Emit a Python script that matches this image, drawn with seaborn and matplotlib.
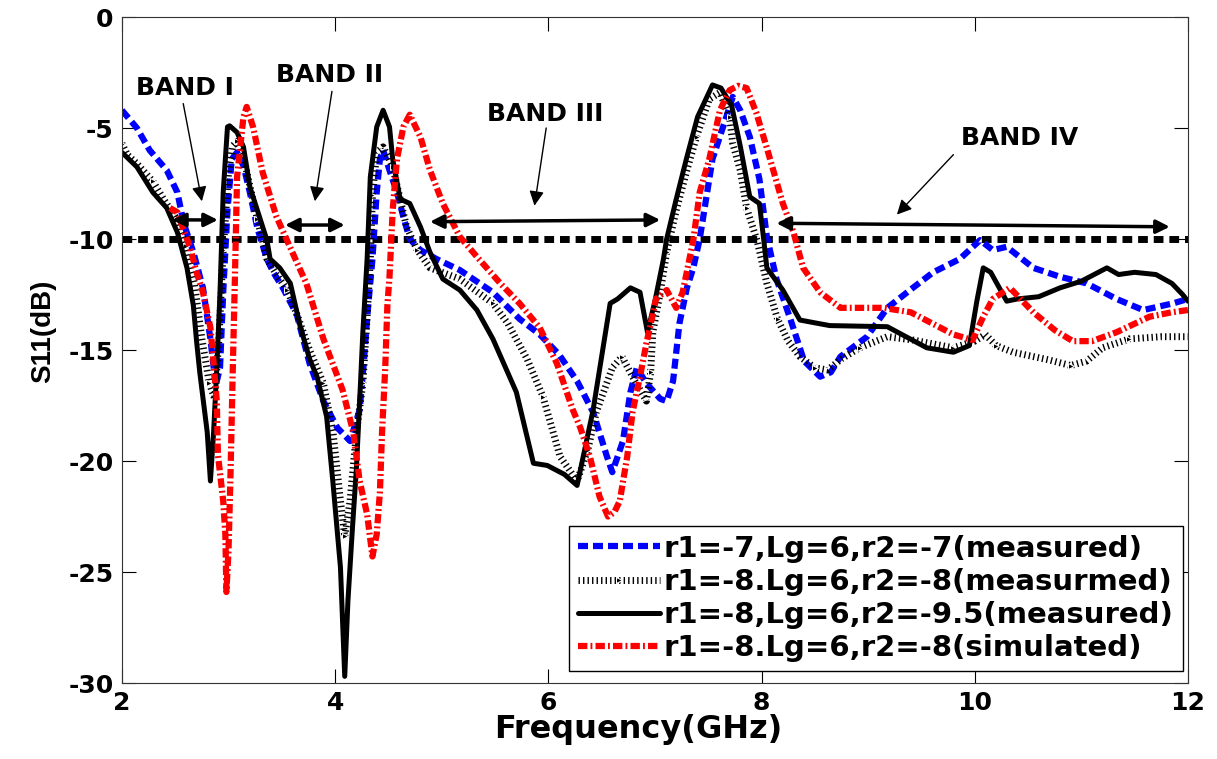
import matplotlib
matplotlib.use("Agg")
import matplotlib.pyplot as plt
import seaborn as sns

# S11 curves (frequency in GHz, S11 in dB)
blue_f = [2.00, 2.14, 2.26, 2.42, 2.52, 2.58, 2.67, 2.76, 2.83, 2.88, 2.92, 2.95, 2.99, 3.03, 3.08,
          3.14, 3.20, 3.27, 3.36, 3.42, 3.51, 3.64, 3.76, 3.89, 4.02, 4.14, 4.23, 4.27, 4.31, 4.35,
          4.39, 4.42, 4.45, 4.51, 4.58, 4.64, 4.70, 4.80, 4.95, 5.17, 5.48, 5.73, 5.92, 6.10, 6.27,
          6.42, 6.55, 6.60, 6.70, 6.77, 6.83, 6.92, 7.05, 7.11, 7.17, 7.23, 7.30, 7.36, 7.42, 7.54,
          7.67, 7.73, 7.80, 7.89, 7.98, 8.05, 8.14, 8.27, 8.40, 8.55, 8.65, 8.74, 8.99, 9.18, 9.42,
          9.61, 9.86, 10.05, 10.17, 10.30, 10.55, 10.80, 11.05, 11.33, 11.58, 11.86, 12.00]
blue_s11 = [-4.2, -5.0, -6.0, -6.9, -7.9, -9.3, -10.6, -12.2, -14.5, -16.6, -15.8, -12.4, -8.7, -6.4, -6.1,
            -6.7, -7.9, -9.5, -10.9, -11.5, -12.2, -13.4, -15.6, -17.3, -18.5, -19.1, -17.7, -15.5, -13.0, -10.9,
            -7.9, -6.4, -6.0, -6.9, -7.9, -9.0, -10.0, -10.5, -10.9, -11.4, -12.4, -13.6, -14.3, -15.2, -16.4,
            -17.8, -19.8, -20.5, -19.1, -16.9, -15.8, -16.5, -17.2, -17.3, -16.4, -13.8, -12.2, -11.3, -10.0, -6.4,
            -4.5, -3.6, -4.2, -5.4, -7.3, -9.9, -11.8, -13.6, -15.5, -16.2, -16.0, -15.3, -14.4, -13.1, -12.2,
            -11.5, -10.9, -10.05, -10.5, -10.35, -11.3, -11.7, -12.0, -12.7, -13.2, -12.9, -12.7]

dot_f = [2.00, 2.05, 2.14, 2.29, 2.39, 2.50, 2.60, 2.68, 2.75, 2.82, 2.87, 2.91, 2.95, 3.00, 3.04,
         3.08, 3.14, 3.20, 3.27, 3.36, 3.45, 3.55, 3.65, 3.76, 3.89, 3.98, 4.05, 4.09, 4.14, 4.20,
         4.26, 4.30, 4.33, 4.35, 4.39, 4.45, 4.54, 4.61, 4.67, 4.77, 4.89, 5.17, 5.48, 5.62, 5.80,
         5.95, 6.11, 6.27, 6.37, 6.45, 6.60, 6.69, 6.79, 6.92, 6.96, 6.98, 7.05, 7.11, 7.20, 7.30,
         7.39, 7.51, 7.61, 7.70, 7.73, 7.80, 7.86, 7.96, 8.05, 8.15, 8.25, 8.36, 8.50, 8.62, 8.75,
         8.92, 9.18, 9.42, 9.80, 10.00, 10.10, 10.20, 10.36, 10.70, 10.90, 11.05, 11.20, 11.45, 11.75, 12.00]
dot_s11 = [-5.7, -6.2, -6.6, -7.4, -8.2, -9.0, -10.3, -12.0, -14.5, -16.5, -17.2, -14.5, -10.5, -7.0, -5.8,
           -5.6, -6.3, -7.6, -9.1, -10.9, -11.6, -12.3, -13.5, -15.0, -16.5, -18.7, -21.8, -23.4, -21.8, -18.7,
           -16.5, -13.5, -10.9, -8.0, -6.1, -5.85, -6.75, -8.2, -9.45, -10.5, -11.3, -11.8, -12.9, -13.8, -15.4,
           -17.1, -19.8, -20.9, -19.5, -17.8, -15.8, -15.3, -16.2, -17.3, -16.0, -14.2, -12.4, -10.6, -8.7, -6.9,
           -5.4, -3.7, -3.4, -4.5, -5.7, -6.9, -8.6, -10.1, -12.0, -13.6, -14.6, -15.3, -15.8, -15.9, -15.4,
           -14.9, -14.4, -14.55, -14.9, -14.6, -14.3, -14.8, -15.1, -15.45, -15.7, -15.5, -14.9, -14.5, -14.4, -14.4]

black_f = [2.00, 2.14, 2.29, 2.42, 2.52, 2.61, 2.67, 2.70, 2.73, 2.80, 2.83, 2.86, 2.89, 2.92, 2.95,
           2.99, 3.01, 3.08, 3.14, 3.20, 3.27, 3.36, 3.39, 3.48, 3.58, 3.67, 3.76, 3.83, 3.92, 3.98,
           4.05, 4.09, 4.12, 4.16, 4.20, 4.23, 4.26, 4.30, 4.33, 4.39, 4.45, 4.51, 4.54, 4.61, 4.70,
           4.80, 4.89, 5.01, 5.17, 5.33, 5.48, 5.70, 5.86, 5.99, 6.15, 6.27, 6.42, 6.58, 6.65, 6.77,
           6.86, 6.93, 7.00, 7.08, 7.11, 7.20, 7.30, 7.40, 7.54, 7.62, 7.72, 7.80, 7.89, 7.98, 8.02,
           8.05, 8.20, 8.36, 8.64, 9.18, 9.55, 9.80, 9.95, 10.02, 10.08, 10.15, 10.30, 10.40, 10.60, 10.80,
           11.00, 11.24, 11.35, 11.50, 11.70, 11.85, 11.95, 12.00]
black_s11 = [-6.1, -6.75, -7.9, -8.6, -9.7, -11.3, -13.0, -14.6, -16.0, -18.7, -20.9, -18.7, -15.8, -12.4, -7.9,
             -4.95, -4.9, -5.2, -5.85, -7.65, -8.7, -10.05, -10.9, -11.3, -12.0, -13.9, -15.4, -16.2, -18.0, -21.0,
             -24.8, -29.7, -26.3, -23.2, -20.3, -17.3, -14.2, -10.9, -7.2, -4.95, -4.2, -4.95, -6.4, -8.2, -8.4,
             -9.45, -10.6, -11.8, -12.3, -13.2, -14.5, -16.9, -20.1, -20.2, -20.6, -21.1, -17.7, -12.9, -12.7, -12.2,
             -12.4, -14.2, -12.8, -10.9, -10.0, -8.2, -6.3, -4.5, -3.06, -3.2, -4.0, -5.8, -8.1, -8.4, -10.0,
             -11.3, -12.3, -13.65, -13.9, -13.95, -14.9, -15.1, -14.8, -12.8, -11.3, -11.5, -12.8, -12.7, -12.6, -12.2,
             -11.9, -11.3, -11.6, -11.5, -11.6, -12.0, -12.5, -12.8]

red_f = [2.45, 2.52, 2.64, 2.70, 2.76, 2.83, 2.86, 2.89, 2.90, 2.95, 2.97, 2.98, 3.00, 3.02, 3.04,
         3.06, 3.08, 3.14, 3.17, 3.23, 3.32, 3.45, 3.58, 3.73, 3.89, 4.07, 4.17, 4.23, 4.30, 4.35,
         4.39, 4.42, 4.44, 4.47, 4.49, 4.51, 4.54, 4.58, 4.64, 4.70, 4.80, 4.89, 5.01, 5.17, 5.33,
         5.55, 5.73, 5.92, 6.08, 6.23, 6.30, 6.39, 6.48, 6.56, 6.62, 6.67, 6.74, 6.79, 6.86, 6.92,
         6.98, 7.01, 7.11, 7.20, 7.26, 7.36, 7.42, 7.51, 7.61, 7.70, 7.78, 7.86, 7.95, 8.05, 8.20,
         8.30, 8.39, 8.55, 8.74, 9.14, 9.40, 9.60, 9.80, 9.98, 10.08, 10.17, 10.33, 10.45, 10.55, 10.75,
         10.92, 11.10, 11.33, 11.64, 11.85, 12.00]
red_s11 = [-8.6, -8.8, -10.4, -11.5, -12.4, -14.0, -15.6, -17.3, -19.7, -21.8, -23.3, -25.9, -24.0, -20.3, -15.8,
           -11.7, -7.2, -4.5, -4.05, -4.95, -7.0, -9.0, -10.4, -12.0, -14.5, -16.8, -18.7, -20.9, -22.4, -24.3,
           -23.3, -21.4, -18.7, -15.8, -13.0, -11.7, -8.7, -6.4, -4.95, -4.4, -5.4, -6.9, -8.4, -9.9, -10.8,
           -12.0, -12.9, -14.0, -15.6, -17.7, -18.5, -19.8, -21.6, -22.5, -22.3, -21.8, -19.8, -17.8, -16.2, -14.7,
           -13.4, -12.7, -12.3, -13.1, -12.4, -10.05, -7.9, -6.4, -4.2, -3.3, -3.1, -3.2, -4.3, -5.9, -8.4,
           -9.7, -11.3, -12.4, -13.1, -13.1, -13.3, -13.8, -14.3, -14.55, -13.5, -12.7, -12.2, -12.8, -13.3, -14.1,
           -14.6, -14.6, -14.2, -13.5, -13.3, -13.2]

labels = ["r1=-7,Lg=6,r2=-7(measured)",
          "r1=-8.Lg=6,r2=-8(measurmed)",
          "r1=-8,Lg=6,r2=-9.5(measured)",
          "r1=-8.Lg=6,r2=-8(simulated)"]
threshold = -10
x_ticks = [2, 4, 6, 8, 10, 12]
y_ticks = [0, -5, -10, -15, -20, -25, -30]

sns.set_style("ticks")
plt.rcParams["font.family"] = ["DejaVu Sans"]
plt.rcParams["font.weight"] = "bold"
plt.rcParams["axes.unicode_minus"] = False
for key in ["text.color", "axes.labelcolor", "xtick.color", "ytick.color"]:
    plt.rcParams[key] = "black"

fig = plt.figure(figsize=(12.17, 7.59), dpi=100)
ax = fig.add_axes([0.1002, 0.1001, 0.8759, 0.8775])

sns.lineplot(x=blue_f, y=blue_s11, ax=ax, color="blue", lw=4.5,
             linestyle=(0, (1.6, 0.8)), label=labels[0], errorbar=None)
sns.lineplot(x=dot_f, y=dot_s11, ax=ax, color="black", lw=5,
             linestyle=(0, (0.2, 0.45)), marker=">", markersize=4,
             markevery=3, label=labels[1], errorbar=None)
sns.lineplot(x=black_f, y=black_s11, ax=ax, color="black", lw=3.6,
             label=labels[2], errorbar=None)
sns.lineplot(x=red_f, y=red_s11, ax=ax, color="red", lw=4.5,
             linestyle=(0, (1.5, 0.5, 0.3, 0.5)), label=labels[3], errorbar=None)

ax.axhline(threshold, color="black", lw=5, linestyle=(0, (1.4, 0.85)), zorder=1)

# band annotations
bands = [("BAND I", (2.59, -3.2), (2.575, -3.9), (2.75, -8.3), (2.47, -9.14), (2.90, -9.14)),
         ("BAND II", (3.95, -2.6), (3.97, -3.35), (3.81, -8.3), (3.53, -9.37), (4.09, -9.37)),
         ("BAND III", (5.97, -4.35), (5.98, -5.0), (5.87, -8.5), (4.89, -9.22), (7.05, -9.14)),
         ("BAND IV", (10.42, -5.47), (9.80, -6.2), (9.27, -8.9), (8.14, -9.29), (11.83, -9.45))]
for name, txt, p0, p1, a0, a1 in bands:
    ax.text(txt[0], txt[1], name, ha="center", va="center", fontsize=18, fontweight="bold")
    ax.annotate("", xy=p1, xytext=p0,
                arrowprops=dict(arrowstyle="-|>", lw=1, color="black",
                                mutation_scale=22, shrinkA=0, shrinkB=0))
    ax.annotate("", xy=a1, xytext=a0,
                arrowprops=dict(arrowstyle="<|-|>", lw=2.5, color="black",
                                mutation_scale=20, shrinkA=0, shrinkB=0))

ax.set_xlim(2, 12)
ax.set_ylim(-30, 0)
ax.set_xticks(x_ticks)
ax.set_yticks(y_ticks)
ax.tick_params(direction="in", length=10, width=0.8, labelsize=18,
               top=True, right=True, pad=6)
for sp in ax.spines.values():
    sp.set_linewidth(0.8)
    sp.set_color("#333333")

ax.set_xlabel("Frequency(GHz)", fontsize=23, fontweight="bold")
ax.set_ylabel("S11(dB)", fontsize=20, fontweight="bold", family="Liberation Sans")
ax.xaxis.set_label_coords(0.484, -0.046)
ax.yaxis.set_label_coords(-0.062, 0.528)

ax.legend(loc="lower right", bbox_to_anchor=(0.995, 0.018), borderaxespad=0,
          fancybox=False, edgecolor="black", framealpha=1,
          prop={"size": 21, "weight": "bold"}, handlelength=2.8,
          handletextpad=0.15, borderpad=0.3, labelspacing=0.18)

fig.savefig("out.png", dpi=100)
